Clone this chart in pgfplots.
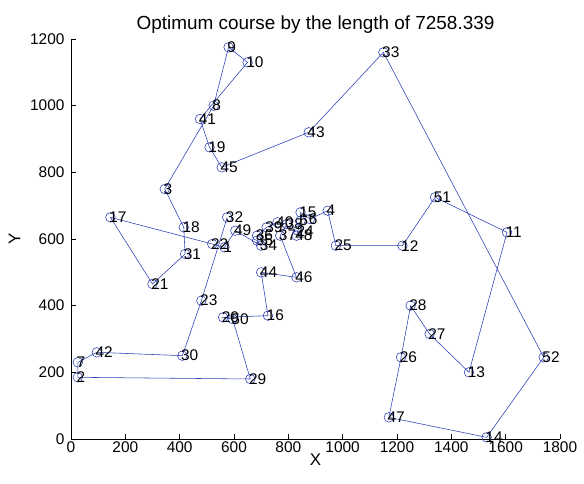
\documentclass[border=0pt]{standalone}
\usepackage{fontspec}
\setmainfont{Liberation Sans}
\usepackage{pgfplots}
\pgfplotsset{compat=1.18}
\usepackage{pgfplotstable}
\definecolor{tour}{RGB}{40,60,180}

\pgfplotstableread{
x y n
575 665 32
480 415 23
410 250 30
95 260 42
25 230 7
25 185 2
660 180 29
595 360 50
560 365 20
725 370 16
700 500 44
830 485 46
770 610 37
795 645 38
760 650 40
720 635 39
685 610 36
685 595 35
700 580 34
605 625 49
565 575 1
520 585 22
145 665 17
300 465 21
420 555 31
415 635 18
345 750 3
525 1000 8
580 1175 9
650 1130 10
475 960 41
510 875 19
555 815 45
875 920 43
1150 1160 33
1740 245 52
1530 5 14
1170 65 47
1215 245 26
1250 400 28
1320 315 27
1465 200 13
1605 620 11
1340 725 51
1220 580 12
975 580 25
945 685 4
880 660 6
845 680 15
845 655 5
835 625 24
830 610 48
}\tourtable

\begin{document}
\begin{tikzpicture}
\useasboundingbox (-71bp,-45bp) rectangle (513bp,439bp);
\begin{axis}[
  scale only axis, width=489bp, height=400bp,
  xmin=0, xmax=1800, ymin=0, ymax=1200,
  axis x line=bottom, axis y line=left, axis line style={-, black, line width=0.7bp},
  tick align=inside, major tick length=5bp, tick style={black, line width=0.7bp},
  xtick={0,200,...,1800}, ytick={0,200,...,1200},
  /pgf/number format/1000 sep={},
  /pgf/number format/assume math mode=true,
  ticklabel style={font=\fontsize{15.5}{17}\selectfont},
  xticklabel style={yshift=1bp},
  yticklabel style={xshift=-3bp},
  title={Optimum course by the length of 7258.339},
  title style={font=\fontsize{19}{21}\selectfont, yshift=-4bp},
  xlabel={X}, ylabel={Y},
  label style={font=\fontsize{17}{19}\selectfont},
  xlabel style={yshift=5bp},
  ylabel style={yshift=3bp},
  clip=false,
]
\addplot[color=tour, line width=0.55bp, mark=o, mark size=4.8bp,
  mark options={line width=0.55bp},
  nodes near coords, point meta=explicit symbolic,
  every node near coord/.style={anchor=west, inner sep=0pt, xshift=-1.5bp,
    font=\fontsize{15.5}{17}\selectfont, text=black}]
  table[x=x, y=y, meta=n] {\tourtable};
\end{axis}
\end{tikzpicture}
\end{document}
